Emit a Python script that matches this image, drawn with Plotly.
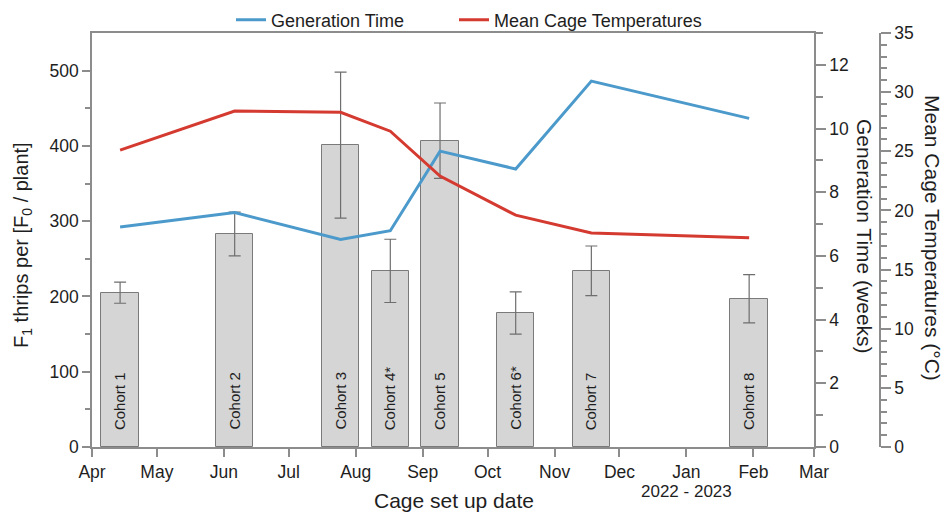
import plotly.graph_objects as go

# Cohort set-up dates and measured values
cohorts = ["Cohort 1", "Cohort 2", "Cohort 3", "Cohort 4*", "Cohort 5",
           "Cohort 6*", "Cohort 7", "Cohort 8"]
setup_dates = ["2022-04-14", "2022-06-06", "2022-07-25", "2022-08-17",
               "2022-09-09", "2022-10-14", "2022-11-18", "2023-01-30"]
f1_thrips = [205, 283, 401, 234, 407, 178, 234, 197]
f1_err = [14, 29, 97, 42, 50, 28, 33, 32]
generation_weeks = [6.91, 7.36, 6.52, 6.79, 9.29, 8.73, 11.49, 10.32]
mean_temp_c = [25.1, 28.4, 28.3, 26.7, 22.9, 19.6, 18.1, 17.7]

month_ticks = ["2022-04-01", "2022-05-01", "2022-06-01", "2022-07-01",
               "2022-08-01", "2022-09-01", "2022-10-01", "2022-11-01",
               "2022-12-01", "2023-01-01", "2023-02-01", "2023-03-01"]
month_labels = ["Apr", "May", "Jun", "Jul", "Aug", "Sep", "Oct", "Nov",
                "Dec", "Jan", "Feb", "Mar"]

FONT = "Liberation Sans, Arial, sans-serif"
AXIS = "#8c8c8c"
TXT = "#1e1e1e"
BLUE = "#4b9acb"
RED = "#d43a30"
DAY_MS = 86400000

fig = go.Figure()

fig.add_trace(go.Bar(
    x=setup_dates, y=f1_thrips, width=[17.3 * DAY_MS] * len(setup_dates),
    marker=dict(color="#d5d5d5", line=dict(color="#7a7a7a", width=1)),
    error_y=dict(type="data", array=f1_err, color="#6e6e6e", thickness=1.2, width=6),
    showlegend=False, yaxis="y",
))

fig.add_trace(go.Scatter(
    x=setup_dates, y=generation_weeks, mode="lines", name="Generation Time",
    line=dict(color=BLUE, width=3), yaxis="y2", legend="legend",
))
fig.add_trace(go.Scatter(
    x=setup_dates, y=mean_temp_c, mode="lines", name="Mean Cage Temperatures",
    line=dict(color=RED, width=3), yaxis="y3", legend="legend2",
))

# Cohort labels inside the bars
for d, name in zip(setup_dates, cohorts):
    fig.add_annotation(x=d, y=20, xref="x", yref="y", text=name, textangle=-90,
                       showarrow=False, xanchor="center", yanchor="bottom",
                       font=dict(family=FONT, size=15, color=TXT))

axis_common = dict(showline=True, linecolor=AXIS, linewidth=1.5, ticks="outside",
                   tickcolor=AXIS, tickwidth=1.5, showgrid=False, zeroline=False,
                   tickfont=dict(family=FONT, size=17.5, color=TXT))

legend_common = dict(orientation="h", xanchor="left", yanchor="middle",
                     y=(447 - 20) / 414, bgcolor="rgba(0,0,0,0)",
                     font=dict(family=FONT, size=18, color=TXT))

fig.update_layout(
    width=948, height=512,
    margin=dict(l=92, r=40, t=33, b=65, autoexpand=False),
    paper_bgcolor="white", plot_bgcolor="white",
    bargap=0,
    xaxis=dict(type="date", domain=[0, 0.8848],
               range=["2022-04-01", "2023-03-01"],
               tickvals=month_ticks, ticktext=month_labels, ticklen=8,
               mirror=True, **axis_common),
    yaxis=dict(range=[0, 550], tickvals=[0, 100, 200, 300, 400, 500], ticklen=8,
               minor=dict(tickvals=[50, 150, 250, 350, 450], ticklen=5,
                          tickcolor=AXIS, ticks="outside"),
               **axis_common),
    yaxis2=dict(range=[0, 13], overlaying="y", side="right", anchor="x",
                tickvals=[0, 2, 4, 6, 8, 10, 12], ticklen=10,
                minor=dict(tickvals=[1, 3, 5, 7, 9, 11, 13], ticklen=7,
                           tickcolor=AXIS, ticks="outside"),
                **axis_common),
    yaxis3=dict(range=[0, 35], overlaying="y", side="right", anchor="free",
                position=0.9657, tickvals=[0, 5, 10, 15, 20, 25, 30, 35], ticklen=10,
                minor=dict(dtick=1, ticklen=6, tickcolor=AXIS, ticks="outside"),
                **axis_common),
    legend=dict(x=(231 - 92) / 816, **legend_common),
    legend2=dict(x=(454 - 92) / 816, **legend_common),
)

# Axis titles
fig.add_annotation(text="F<sub>1</sub> thrips per [F<sub>0</sub> / plant]",
                   xref="paper", yref="paper", x=(22 - 92) / 816, y=(447 - 245) / 414,
                   textangle=-90, showarrow=False, xanchor="center", yanchor="middle",
                   font=dict(family=FONT, size=20, color=TXT))
fig.add_annotation(text="Generation Time (weeks)",
                   xref="paper", yref="paper", x=(864 - 92) / 816, y=(447 - 236) / 414,
                   textangle=90, showarrow=False, xanchor="center", yanchor="middle",
                   font=dict(family=FONT, size=21, color=TXT))
fig.add_annotation(text="Mean Cage Temperatures (°C)",
                   xref="paper", yref="paper", x=(933 - 92) / 816, y=(447 - 238) / 414,
                   textangle=90, showarrow=False, xanchor="center", yanchor="middle",
                   font=dict(family=FONT, size=21, color=TXT))
fig.add_annotation(text="Cage set up date",
                   xref="paper", yref="paper", x=(454 - 92) / 816, y=(447 - 500) / 414,
                   showarrow=False, xanchor="center", yanchor="middle",
                   font=dict(family=FONT, size=21, color=TXT))
fig.add_annotation(text="2022 - 2023",
                   xref="x", yref="paper", x="2023-01-01", y=(447 - 491) / 414,
                   showarrow=False, xanchor="center", yanchor="middle",
                   font=dict(family=FONT, size=17, color=TXT))

fig.write_html("out.html")
